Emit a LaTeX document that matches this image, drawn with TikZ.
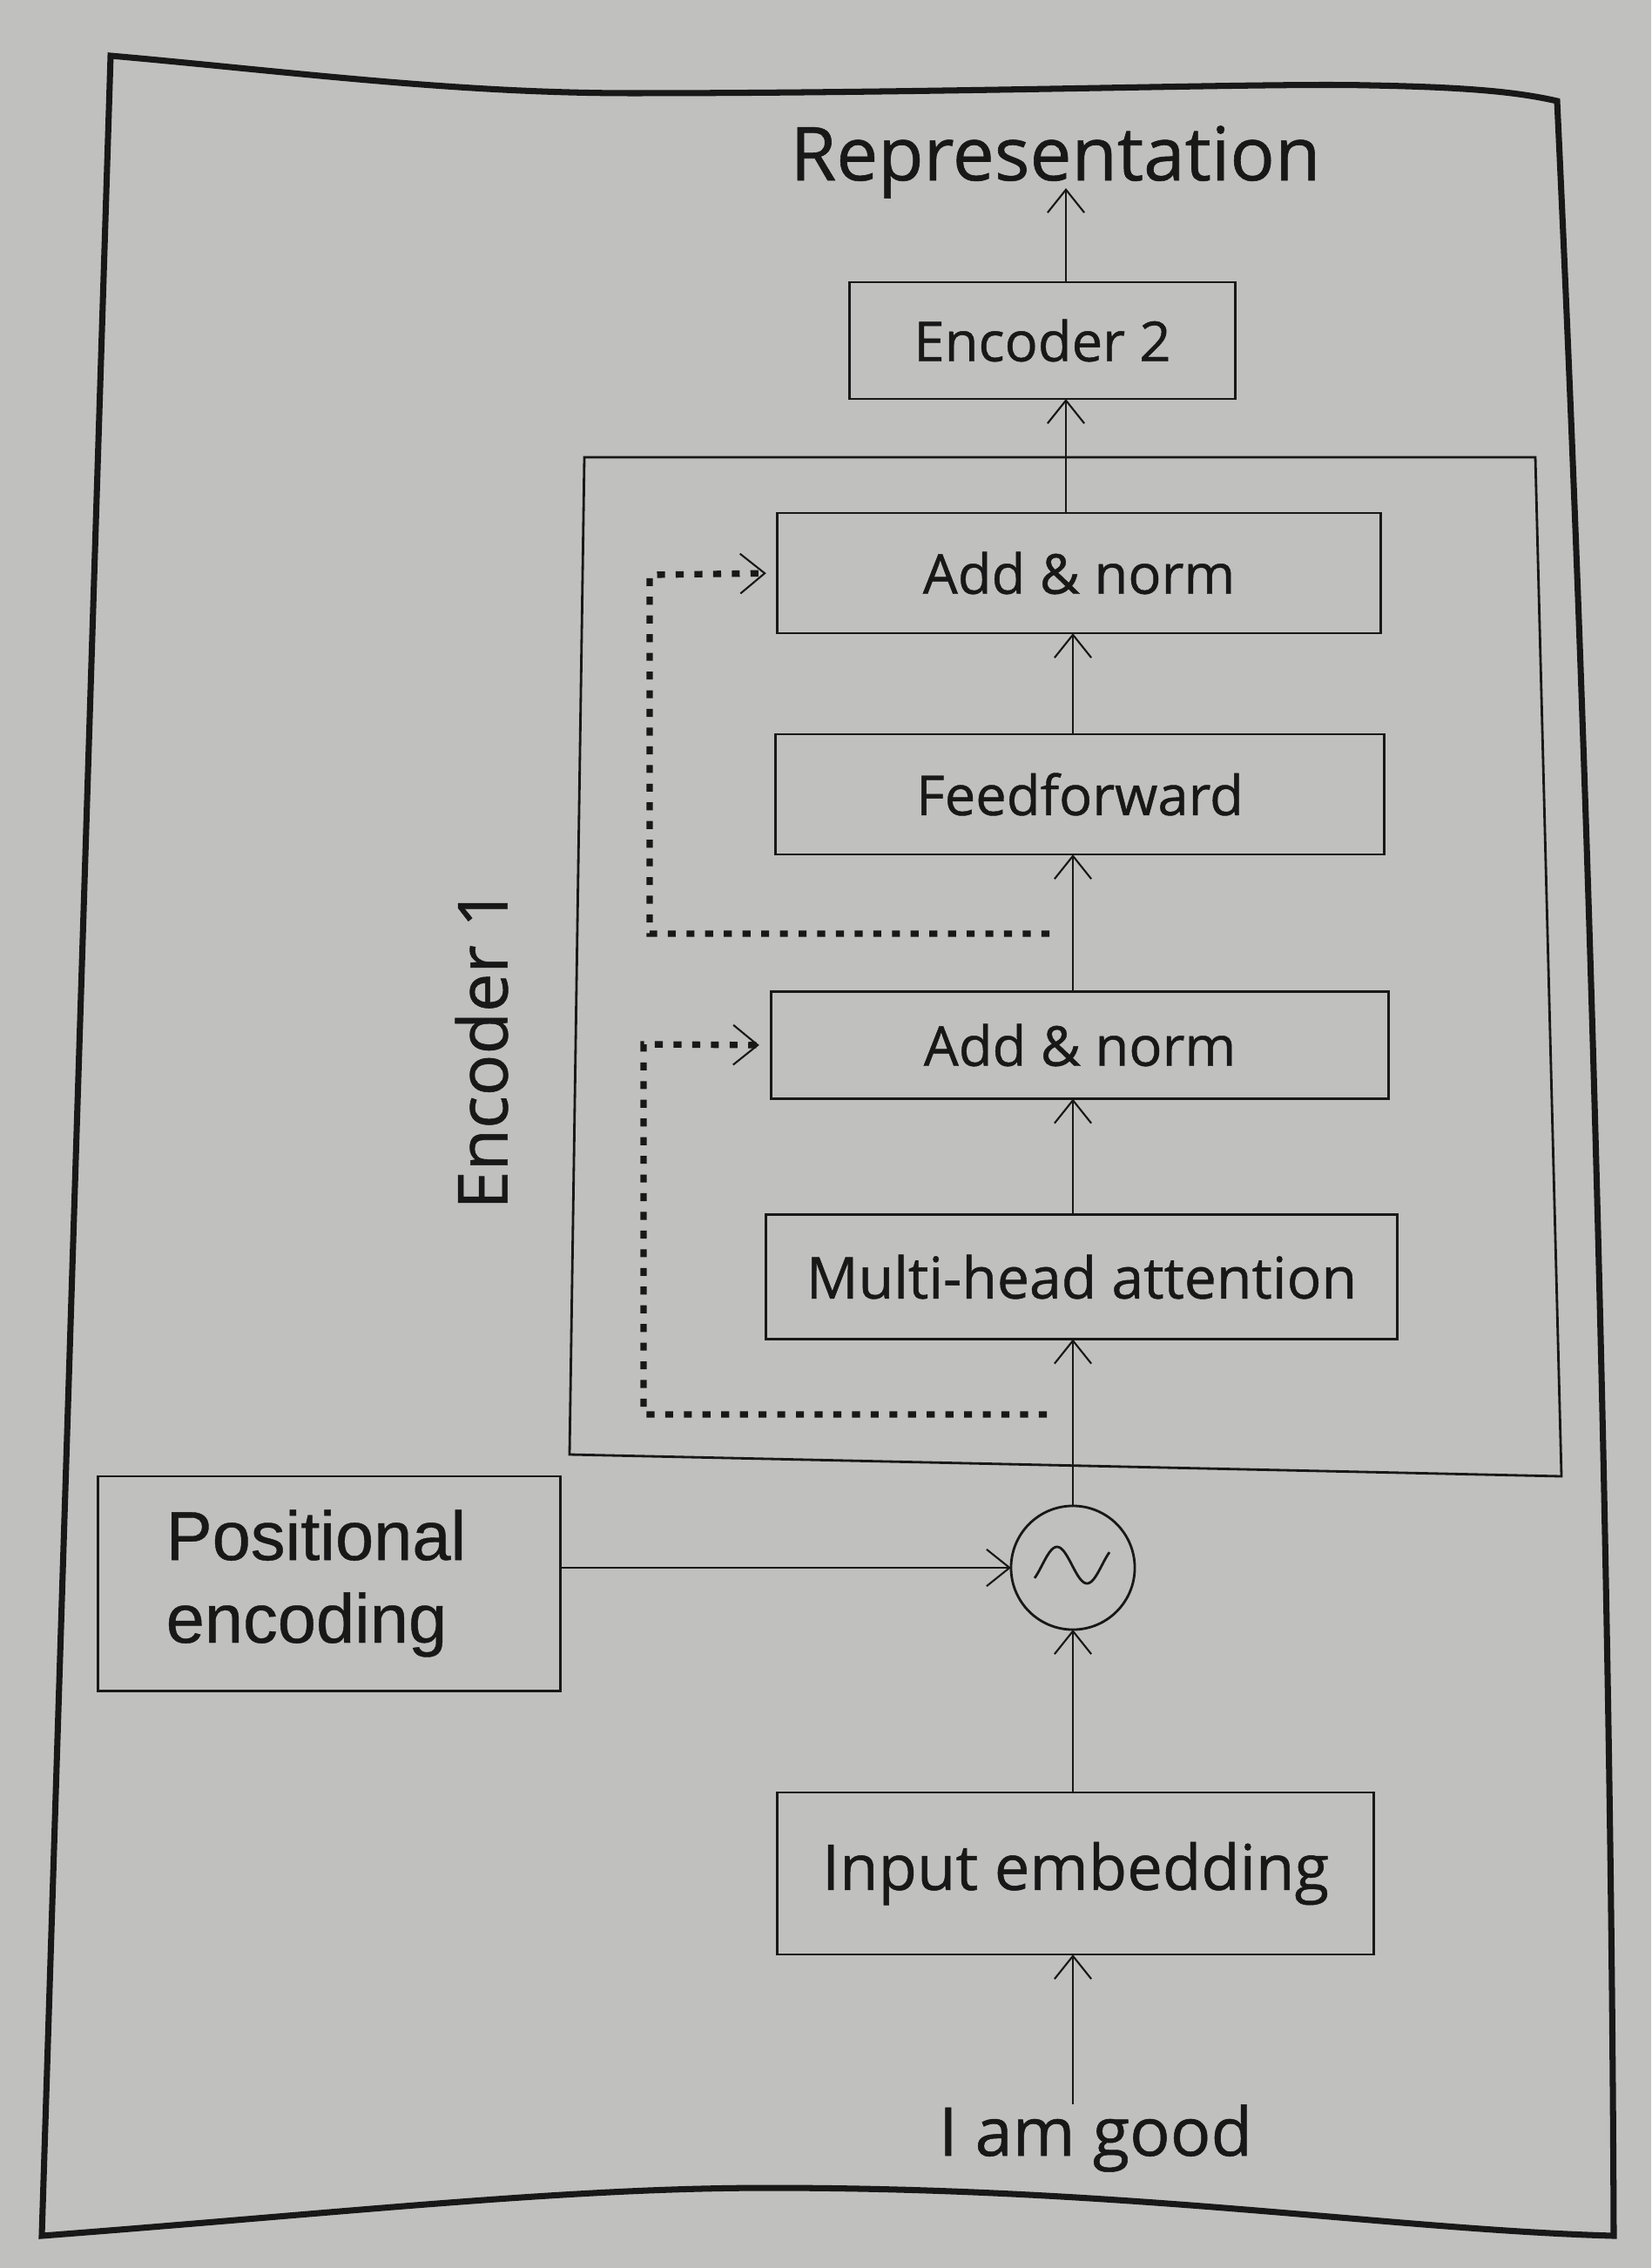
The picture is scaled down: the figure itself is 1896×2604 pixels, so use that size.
\documentclass[tikz,border=0pt]{standalone}
\usepackage{fontspec}
\setmainfont{Open Sans}[FakeBold=0.7]
\newfontfamily\arialfont{Liberation Sans}[FakeBold=0.5]
\usetikzlibrary{arrows.meta,calc}

\definecolor{paper}{RGB}{192,192,190}
\definecolor{ink}{RGB}{24,24,24}

\begin{document}
\begin{tikzpicture}[x=0.01cm,y=-0.01cm,
  every node/.style={inner sep=0pt,outer sep=0pt,text=ink},
  box/.style={draw=ink,line width=0.8pt,font=\fontsize{18}{22}\selectfont},
  flow/.style={draw=ink,line width=0.6pt,-{Straight Barb[length=7.5pt,width=12pt,line width=0.6pt]}},
  skip/.style={draw=ink,line width=2.1pt,dash pattern=on 2.6pt off 3.5pt,
    -{Straight Barb[length=8pt,width=13pt,line width=0.6pt,sep=0pt]}},
  frame/.style={draw=ink,line width=2pt,line join=miter},
  group/.style={draw=ink,line width=0.8pt,line join=miter}]

% page
\fill[paper] (0,0) rectangle (1896,2604);
\useasboundingbox (0,0) rectangle (1896,2604);

% outer frame
\draw[frame] (127,64) .. controls (330,82) and (520,107) .. (725,107)
  .. controls (1100,107) and (1450,95) .. (1572,98)
  .. controls (1680,100) and (1740,105) .. (1788,116)
  .. controls (1825,900) and (1850,1800) .. (1853,2567)
  .. controls (1600,2560) and (1300,2512) .. (883,2512)
  .. controls (650,2512) and (400,2540) .. (48,2567) -- cycle;

% encoder 1 group frame
\draw[group] (671,525) -- (1763,525) -- (1793,1695) -- (654,1670) -- cycle;
\node[rotate=90,font=\fontsize{22.5}{26}\selectfont] (enc1lbl) at (553,1204) {Encoder 1};

% blocks
\node[font=\fontsize{24.3}{28}\selectfont] (rep) at (1212,186) {Representation};
\node[box,minimum width=4.42cm,minimum height=1.34cm] (enc2) at (1197,391) {Encoder 2};
\node[box,minimum width=6.92cm,minimum height=1.38cm] (an1) at (1239,658) {Add \& norm};
\node[box,minimum width=6.99cm,minimum height=1.38cm] (ff) at (1240,912) {Feedforward};
\node[box,minimum width=7.08cm,minimum height=1.23cm] (an2) at (1240,1200) {Add \& norm};
\node[box,minimum width=7.24cm,minimum height=1.43cm,font=\fontsize{18.8}{22}\selectfont] (mha) at (1242,1466) {Multi-head attention};
\node[draw=ink,line width=0.8pt,circle,minimum size=1.42cm] (mix) at (1232,1800) {};
\draw[ink,line width=0.8pt] plot[domain=-225:225,samples=60] ({1231+\x/225*43},{1797+21*sin(\x)});
\node[box,minimum width=5.31cm,minimum height=2.46cm,align=left,
  font=\arialfont\fontsize{22.6}{27}\selectfont] (pe) at (378,1818) {Positional\hspace*{0.3cm}\\encoding};
\node[box,minimum width=6.84cm,minimum height=1.86cm,font=\fontsize{20.6}{24}\selectfont] (emb) at (1235,2151) {Input embedding};
\node[font=\fontsize{22}{26}\selectfont] (words) at (1258,2455) {I am good};

% main data path
\coordinate (ax) at (1232,0);
\coordinate (ax2) at (1224,0);
\draw[flow] (words.north -| ax) -- (emb.south -| ax);
\draw[flow] (emb.north -| ax) -- (mix.south);
\draw[flow] (mix.north) -- (mha.south -| ax);
\draw[flow] (mha.north -| ax) -- (an2.south -| ax);
\draw[flow] (an2.north -| ax) -- (ff.south -| ax);
\draw[flow] (ff.north -| ax) -- (an1.south -| ax);
\draw[flow] (an1.north -| ax2) -- (enc2.south -| ax2);
\draw[flow] (enc2.north -| ax2) -- ($(rep.base -| ax2)+(0,9)$);
\draw[flow] (pe.east |- mix) -- (mix.west);

% residual connections
\coordinate (tap1) at (1202,1624);
\coordinate (tap2) at (1205,1072);
\draw[skip,shorten >=0.14cm] (tap1) -| (739,1199) -- (an2.west);
\draw[skip,shorten >=0.13cm] (tap2) -| (746,660) -- (an1.west);
\end{tikzpicture}
\end{document}
